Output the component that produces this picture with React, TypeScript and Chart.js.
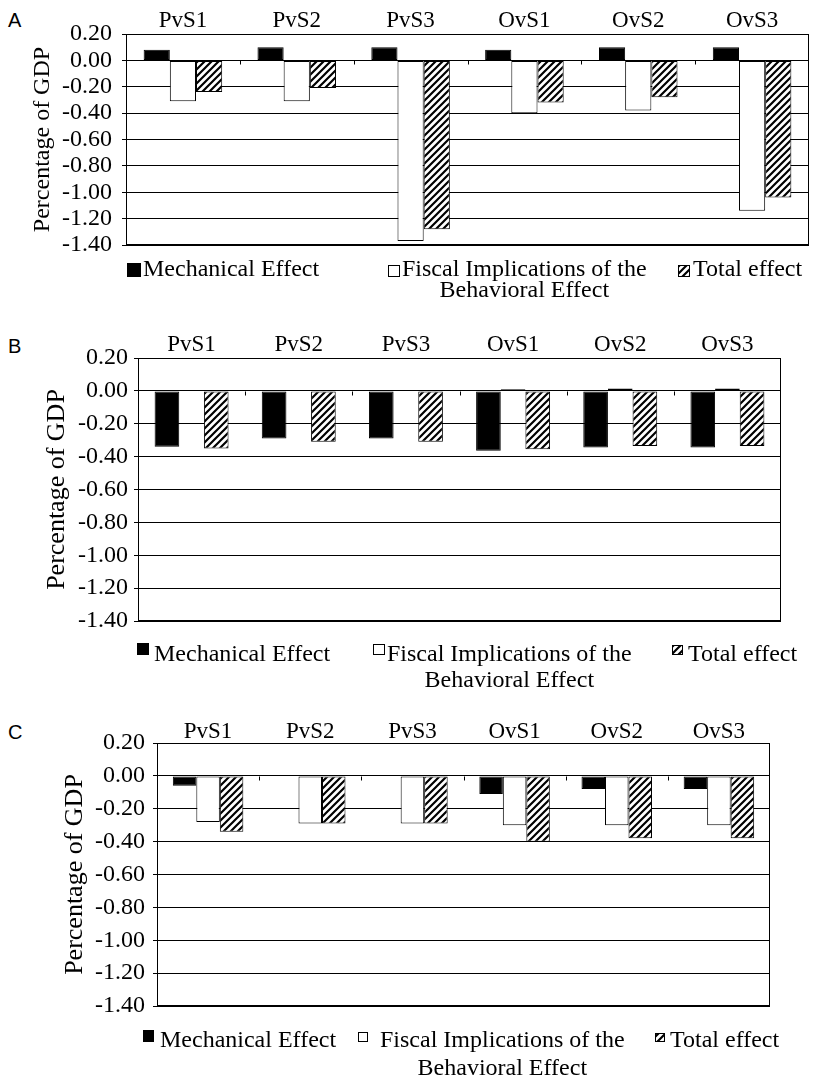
import React, { useEffect, useRef } from "react";
import { Chart, registerables } from "chart.js";

Chart.register(...registerables);

// ---------- data ----------
const categories = ["PvS1", "PvS2", "PvS3", "OvS1", "OvS2", "OvS3"];

const seriesLabels = ["Mechanical Effect", "Fiscal Implications of the", "Total effect"];
const fiscalLabelLine2 = "Behavioral Effect";
const axisTitle = "Percentage of GDP";

const yMin = -1.4;
const yMax = 0.2;
const yStep = 0.2;

// Panel A
const aMechanical = [0.08, 0.1, 0.1, 0.08, 0.1, 0.1];
const aFiscal = [-0.31, -0.31, -1.37, -0.4, -0.38, -1.14];
const aTotal = [-0.24, -0.21, -1.28, -0.32, -0.28, -1.04];

// Panel B
const bMechanical = [-0.34, -0.29, -0.29, -0.365, -0.345, -0.345];
const bFiscal = [0, 0, 0, 0.01, 0.015, 0.015];
const bTotal = [-0.35, -0.31, -0.31, -0.355, -0.335, -0.335];

// Panel C
const cMechanical = [-0.06, 0, 0, -0.11, -0.08, -0.08];
const cFiscal = [-0.28, -0.29, -0.29, -0.3, -0.3, -0.3];
const cTotal = [-0.34, -0.29, -0.29, -0.4, -0.38, -0.38];

// ---------- styling / layout ----------
const SERIF = "'Liberation Serif', 'Times New Roman', serif";
const SANS = "'Liberation Sans', Arial, sans-serif";
const W = 814;

type Box = { x: number; y: number; w: number; h: number; tx: number };
type Layout = {
  letter: string;
  letterTop: number;
  top: number;
  height: number;
  area: { left: number; right: number; top: number; bottom: number };
  titleSize: number;
  titleCenter: number;
  tickPad: number;
  catPad: number;
  legendY1: number;
  legendY2: number;
  boxes: Box[];
};

const layoutA: Layout = {
  letter: "A",
  letterTop: 10,
  top: 0,
  height: 305,
  area: { left: 126, right: 809, top: 34, bottom: 245 },
  titleSize: 24,
  titleCenter: 43,
  tickPad: 10,
  catPad: 2,
  legendY1: 270,
  legendY2: 291,
  boxes: [
    { x: 127, y: 263, w: 14, h: 14, tx: 143 },
    { x: 388, y: 265, w: 12, h: 12, tx: 402 },
    { x: 678, y: 265, w: 12, h: 12, tx: 693 },
  ],
};

const layoutB: Layout = {
  letter: "B",
  letterTop: 336,
  top: 325,
  height: 370,
  area: { left: 138, right: 781, top: 33, bottom: 296 },
  titleSize: 26,
  titleCenter: 57,
  tickPad: 6,
  catPad: 2,
  legendY1: 330,
  legendY2: 356,
  boxes: [
    { x: 137, y: 318, w: 12, h: 12, tx: 154 },
    { x: 373, y: 319, w: 12, h: 11, tx: 387 },
    { x: 672, y: 320, w: 11, h: 10, tx: 688 },
  ],
};

const layoutC: Layout = {
  letter: "C",
  letterTop: 722,
  top: 705,
  height: 374,
  area: { left: 157, right: 770, top: 38, bottom: 301 },
  titleSize: 26,
  titleCenter: 75,
  tickPad: 8,
  catPad: 0,
  legendY1: 336,
  legendY2: 364,
  boxes: [
    { x: 143, y: 325, w: 11, h: 12, tx: 160 },
    { x: 358, y: 327, w: 10, h: 10, tx: 380 },
    { x: 655, y: 328, w: 10, h: 9, tx: 670 },
  ],
};

function makeHatch(ctx: CanvasRenderingContext2D): CanvasPattern | string {
  const s = 7;
  const c = document.createElement("canvas");
  c.width = s;
  c.height = s;
  const g = c.getContext("2d");
  if (!g) return "#888";
  g.fillStyle = "#fff";
  g.fillRect(0, 0, s, s);
  g.strokeStyle = "#000";
  g.lineWidth = 2.2;
  g.beginPath();
  g.moveTo(-1, s + 1);
  g.lineTo(s + 1, -1);
  g.moveTo(-s / 2 - 1, s / 2 + 1);
  g.lineTo(s / 2 + 1, -s / 2 - 1);
  g.moveTo(s / 2 - 1, s * 1.5 + 1);
  g.lineTo(s * 1.5 + 1, s / 2 - 1);
  g.stroke();
  return ctx.createPattern(c, "repeat") || "#888";
}

function makeDecor(L: Layout, hatch: CanvasPattern | string) {
  return {
    id: "panelDecor" + L.letter,
    afterDraw(chart: any) {
      const { ctx, chartArea: a, scales } = chart;
      const x = scales.x;
      const y = scales.y;
      ctx.save();
      ctx.strokeStyle = "#000";
      ctx.lineWidth = 1;
      // plot frame
      const l = Math.round(a.left) + 0.5;
      const t = Math.round(a.top) + 0.5;
      const r = Math.round(a.right) - 0.5;
      const b = Math.round(a.bottom) - 0.5;
      ctx.strokeRect(l, t, r - l, b - t);
      // category tick marks on the zero line
      const y0 = Math.round(y.getPixelForValue(0)) + 0.5;
      for (let i = 1; i < categories.length; i++) {
        const bx = Math.round((x.getPixelForValue(i - 1) + x.getPixelForValue(i)) / 2) + 0.5;
        ctx.beginPath();
        ctx.moveTo(bx, y0);
        ctx.lineTo(bx, y0 + 4);
        ctx.stroke();
      }
      // legend
      const fills = ["#000", "#fff", hatch];
      ctx.font = `24px ${SERIF}`;
      ctx.fillStyle = "#000";
      ctx.textBaseline = "middle";
      ctx.textAlign = "left";
      L.boxes.forEach((bx, i) => {
        ctx.fillStyle = fills[i];
        ctx.fillRect(bx.x, bx.y, bx.w, bx.h);
        ctx.strokeStyle = "#000";
        ctx.strokeRect(bx.x + 0.5, bx.y + 0.5, bx.w - 1, bx.h - 1);
        ctx.fillStyle = "#000";
        ctx.fillText(seriesLabels[i], bx.tx, L.legendY1);
        if (i === 1) {
          const w1 = ctx.measureText(seriesLabels[i]).width;
          ctx.textAlign = "center";
          ctx.fillText(fiscalLabelLine2, bx.tx + w1 / 2, L.legendY2);
          ctx.textAlign = "left";
        }
      });
      ctx.restore();
    },
  };
}

function fmt(v: number) {
  if (Math.abs(v) < 1e-9) return "0.00";
  return v.toFixed(2);
}

function Panel(props: { L: Layout; mech: number[]; fiscal: number[]; total: number[] }) {
  const { L, mech, fiscal, total } = props;
  const ref = useRef<HTMLCanvasElement>(null);
  useEffect(() => {
    const canvas = ref.current;
    if (!canvas) return;
    const ctx = canvas.getContext("2d");
    if (!ctx) return;
    const hatch = makeHatch(ctx);
    const padLeft = Math.round(L.titleCenter - L.titleSize / 2);
    const common = {
      borderColor: "#000",
      borderWidth: 1,
      borderSkipped: false,
      categoryPercentage: 0.69,
      barPercentage: 1.0,
    };
    const chart = new Chart(canvas, {
      type: "bar",
      data: {
        labels: categories,
        datasets: [
          { label: seriesLabels[0], data: mech, backgroundColor: "#000", ...common },
          { label: seriesLabels[1], data: fiscal, backgroundColor: "#fff", ...common },
          { label: seriesLabels[2], data: total, backgroundColor: hatch, ...common },
        ],
      },
      options: {
        responsive: false,
        animation: false,
        devicePixelRatio: 1,
        events: [],
        layout: {
          padding: {
            left: padLeft,
            right: W - L.area.right,
            top: 0,
            bottom: L.height - L.area.bottom,
          },
        },
        plugins: {
          legend: { display: false },
          tooltip: { enabled: false },
          title: { display: false },
        },
        scales: {
          x: {
            type: "category",
            position: "top",
            offset: true,
            grid: { display: false, drawTicks: false },
            border: { display: false },
            ticks: {
              color: "#000",
              font: { family: SERIF, size: 23, lineHeight: 1 },
              padding: L.catPad,
              maxRotation: 0,
              autoSkip: false,
            },
            afterFit: (s: any) => {
              s.height = L.area.top;
            },
          },
          y: {
            type: "linear",
            min: yMin,
            max: yMax,
            ticks: {
              stepSize: yStep,
              autoSkip: false,
              color: "#000",
              font: { family: SERIF, size: 24 },
              padding: L.tickPad,
              callback: (v: any) => fmt(Number(v)),
            },
            grid: { color: "#000", lineWidth: 1, drawTicks: true, tickLength: 4, tickColor: "#000" },
            border: { display: true, color: "#000", width: 1 },
            title: {
              display: true,
              text: axisTitle,
              color: "#000",
              font: { family: SERIF, size: L.titleSize, lineHeight: 1 },
              padding: 0,
            },
            afterFit: (s: any) => {
              s.width = L.area.left - padLeft;
            },
          },
        },
      },
      plugins: [makeDecor(L, hatch)],
    } as any);
    return () => chart.destroy();
  }, []);
  return (
    <>
      <div
        style={{
          position: "absolute",
          left: 8,
          top: L.letterTop,
          fontFamily: SANS,
          fontSize: 20,
          lineHeight: "20px",
          color: "#000",
        }}
      >
        {L.letter}
      </div>
      <canvas
        ref={ref}
        width={W}
        height={L.height}
        style={{ position: "absolute", left: 0, top: L.top, width: W, height: L.height }}
      />
    </>
  );
}

export default function App() {
  return (
    <div style={{ position: "absolute", left: 0, top: 0, width: W, height: 1079, background: "#fff" }}>
      <Panel L={layoutA} mech={aMechanical} fiscal={aFiscal} total={aTotal} />
      <Panel L={layoutB} mech={bMechanical} fiscal={bFiscal} total={bTotal} />
      <Panel L={layoutC} mech={cMechanical} fiscal={cFiscal} total={cTotal} />
    </div>
  );
}
